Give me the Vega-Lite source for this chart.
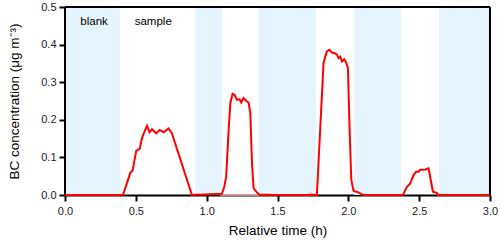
{
  "$schema": "https://vega.github.io/schema/vega-lite/v6.json",
  "width": 425,
  "height": 188,
  "autosize": "none",
  "padding": {"left": 65, "top": 7, "right": 10, "bottom": 48},
  "background": "white",
  "config": {
    "view": {"stroke": null},
    "font": "Liberation Sans",
    "axis": {
      "grid": false,
      "domain": true,
      "domainColor": "black",
      "domainWidth": 2,
      "tickColor": "black",
      "tickWidth": 2,
      "tickSize": 6,
      "labelOverlap": false,
      "labelFlush": false,
      "labelFont": "Liberation Sans",
      "labelFontSize": 11,
      "labelColor": "#222",
      "titleFont": "Liberation Sans",
      "titleFontSize": 13.5,
      "titleFontWeight": "normal",
      "titleColor": "black"
    },
    "axisX": {"labelPadding": 4, "titlePadding": 7, "zindex": 0},
    "axisY": {"labelPadding": 3, "titlePadding": 19, "zindex": 1}
  },
  "datasets": {
    "bands": [
      {"start": 0, "end": 0.39},
      {"start": 0.92, "end": 1.108},
      {"start": 1.366, "end": 1.771},
      {"start": 2.042, "end": 2.373},
      {"start": 2.641, "end": 3.0}
    ],
    "bc": [
      {"t": 0, "bc": 0}, {"t": 0.409, "bc": 0}, {"t": 0.461, "bc": 0.059}, {"t": 0.477, "bc": 0.065},
      {"t": 0.503, "bc": 0.118}, {"t": 0.527, "bc": 0.123}, {"t": 0.543, "bc": 0.151}, {"t": 0.562, "bc": 0.169},
      {"t": 0.579, "bc": 0.184}, {"t": 0.597, "bc": 0.167}, {"t": 0.614, "bc": 0.175}, {"t": 0.644, "bc": 0.164},
      {"t": 0.668, "bc": 0.173}, {"t": 0.696, "bc": 0.167}, {"t": 0.731, "bc": 0.177}, {"t": 0.755, "bc": 0.164},
      {"t": 0.896, "bc": 0}, {"t": 1.108, "bc": 0.003}, {"t": 1.124, "bc": 0.022}, {"t": 1.138, "bc": 0.049},
      {"t": 1.155, "bc": 0.173}, {"t": 1.167, "bc": 0.244}, {"t": 1.183, "bc": 0.269}, {"t": 1.197, "bc": 0.266},
      {"t": 1.214, "bc": 0.253}, {"t": 1.232, "bc": 0.255}, {"t": 1.244, "bc": 0.246}, {"t": 1.26, "bc": 0.258},
      {"t": 1.284, "bc": 0.249}, {"t": 1.296, "bc": 0.246}, {"t": 1.308, "bc": 0.218}, {"t": 1.32, "bc": 0.084},
      {"t": 1.331, "bc": 0.018}, {"t": 1.35, "bc": 0.009}, {"t": 1.366, "bc": 0.003}, {"t": 1.38, "bc": 0},
      {"t": 1.778, "bc": 0}, {"t": 1.825, "bc": 0.351}, {"t": 1.837, "bc": 0.368}, {"t": 1.849, "bc": 0.382},
      {"t": 1.865, "bc": 0.386}, {"t": 1.884, "bc": 0.379}, {"t": 1.903, "bc": 0.377}, {"t": 1.92, "bc": 0.373},
      {"t": 1.931, "bc": 0.364}, {"t": 1.943, "bc": 0.368}, {"t": 1.955, "bc": 0.355}, {"t": 1.971, "bc": 0.361},
      {"t": 1.985, "bc": 0.352}, {"t": 1.997, "bc": 0.338}, {"t": 2.009, "bc": 0.173}, {"t": 2.021, "bc": 0.04},
      {"t": 2.037, "bc": 0.011}, {"t": 2.072, "bc": 0.007}, {"t": 2.09, "bc": 0.003}, {"t": 2.107, "bc": 0},
      {"t": 2.385, "bc": 0}, {"t": 2.413, "bc": 0.021}, {"t": 2.437, "bc": 0.031}, {"t": 2.46, "bc": 0.053},
      {"t": 2.479, "bc": 0.062}, {"t": 2.496, "bc": 0.062}, {"t": 2.507, "bc": 0.067}, {"t": 2.526, "bc": 0.067},
      {"t": 2.543, "bc": 0.068}, {"t": 2.566, "bc": 0.071}, {"t": 2.573, "bc": 0.058}, {"t": 2.597, "bc": 0.009},
      {"t": 2.625, "bc": 0.006}, {"t": 2.632, "bc": 0}, {"t": 3.0, "bc": 0}
    ],
    "faint": [
      {"t": 1.06, "bc": 0}, {"t": 1.075, "bc": 0.004}, {"t": 1.09, "bc": 0.002}, {"t": 1.1, "bc": 0},
      {"t": 1.38, "bc": 0}, {"t": 1.39, "bc": 0.004}, {"t": 1.44, "bc": 0.003}, {"t": 1.46, "bc": 0},
      {"t": 1.71, "bc": 0}, {"t": 1.73, "bc": 0.005}, {"t": 1.76, "bc": 0.002}, {"t": 1.77, "bc": 0}
    ],
    "labels": [
      {"t": 0.205, "y": 0.46, "text": "blank"},
      {"t": 0.623, "y": 0.46, "text": "sample"}
    ],
    "frameX": [{"x": 0, "y0": 0, "y1": 0.5}, {"x": 3.0, "y0": 0, "y1": 0.5}]
  },
  "layer": [
    {
      "data": {"name": "bands"},
      "mark": {"type": "rect", "color": "#e6f4fd"},
      "encoding": {
        "x": {"field": "start", "type": "quantitative", "title": "Relative time (h)",
              "scale": {"domain": [0, 3], "nice": false},
              "axis": {"values": [0, 0.5, 1, 1.5, 2, 2.5, 3], "format": ".1f"}},
        "x2": {"field": "end"}
      }
    },
    {
      "data": {"name": "faint"},
      "mark": {"type": "line", "color": "#f2b3b3", "strokeWidth": 1.5},
      "encoding": {
        "x": {"field": "t", "type": "quantitative", "title": "Relative time (h)",
              "scale": {"domain": [0, 3], "nice": false},
              "axis": {"values": [0, 0.5, 1, 1.5, 2, 2.5, 3], "format": ".1f"}},
        "y": {"field": "bc", "type": "quantitative", "title": "BC concentration (μg m⁻³)",
              "scale": {"domain": [0, 0.5], "nice": false},
              "axis": {"values": [0, 0.1, 0.2, 0.3, 0.4, 0.5], "format": ".1f"}}
      }
    },
    {
      "data": {"name": "bc"},
      "mark": {"type": "line", "color": "#ff0000", "strokeWidth": 2},
      "encoding": {
        "x": {"field": "t", "type": "quantitative", "title": "Relative time (h)",
              "scale": {"domain": [0, 3], "nice": false},
              "axis": {"values": [0, 0.5, 1, 1.5, 2, 2.5, 3], "format": ".1f"}},
        "y": {"field": "bc", "type": "quantitative", "title": "BC concentration (μg m⁻³)",
              "scale": {"domain": [0, 0.5], "nice": false},
              "axis": {"values": [0, 0.1, 0.2, 0.3, 0.4, 0.5], "format": ".1f"}}
      }
    },
    {
      "data": {"values": [{}]},
      "mark": {"type": "rule", "color": "black", "strokeWidth": 2},
      "encoding": {"y": {"datum": 0.5, "type": "quantitative", "title": "BC concentration (μg m⁻³)",
              "scale": {"domain": [0, 0.5], "nice": false},
              "axis": {"values": [0, 0.1, 0.2, 0.3, 0.4, 0.5], "format": ".1f"}}}
    },
    {
      "data": {"name": "frameX"},
      "mark": {"type": "rule", "color": "black", "strokeWidth": 2},
      "encoding": {
        "x": {"field": "x", "type": "quantitative", "title": "Relative time (h)",
              "scale": {"domain": [0, 3], "nice": false},
              "axis": {"values": [0, 0.5, 1, 1.5, 2, 2.5, 3], "format": ".1f"}},
        "y": {"field": "y0", "type": "quantitative", "title": "BC concentration (μg m⁻³)",
              "scale": {"domain": [0, 0.5], "nice": false},
              "axis": {"values": [0, 0.1, 0.2, 0.3, 0.4, 0.5], "format": ".1f"}},
        "y2": {"field": "y1"}
      }
    },
    {
      "data": {"name": "labels"},
      "mark": {"type": "text", "font": "Liberation Sans", "fontSize": 11.5, "color": "black", "baseline": "middle", "align": "center"},
      "encoding": {
        "x": {"field": "t", "type": "quantitative", "title": "Relative time (h)",
              "scale": {"domain": [0, 3], "nice": false},
              "axis": {"values": [0, 0.5, 1, 1.5, 2, 2.5, 3], "format": ".1f"}},
        "y": {"field": "y", "type": "quantitative", "title": "BC concentration (μg m⁻³)",
              "scale": {"domain": [0, 0.5], "nice": false},
              "axis": {"values": [0, 0.1, 0.2, 0.3, 0.4, 0.5], "format": ".1f"}},
        "text": {"field": "text"}
      }
    }
  ]
}
